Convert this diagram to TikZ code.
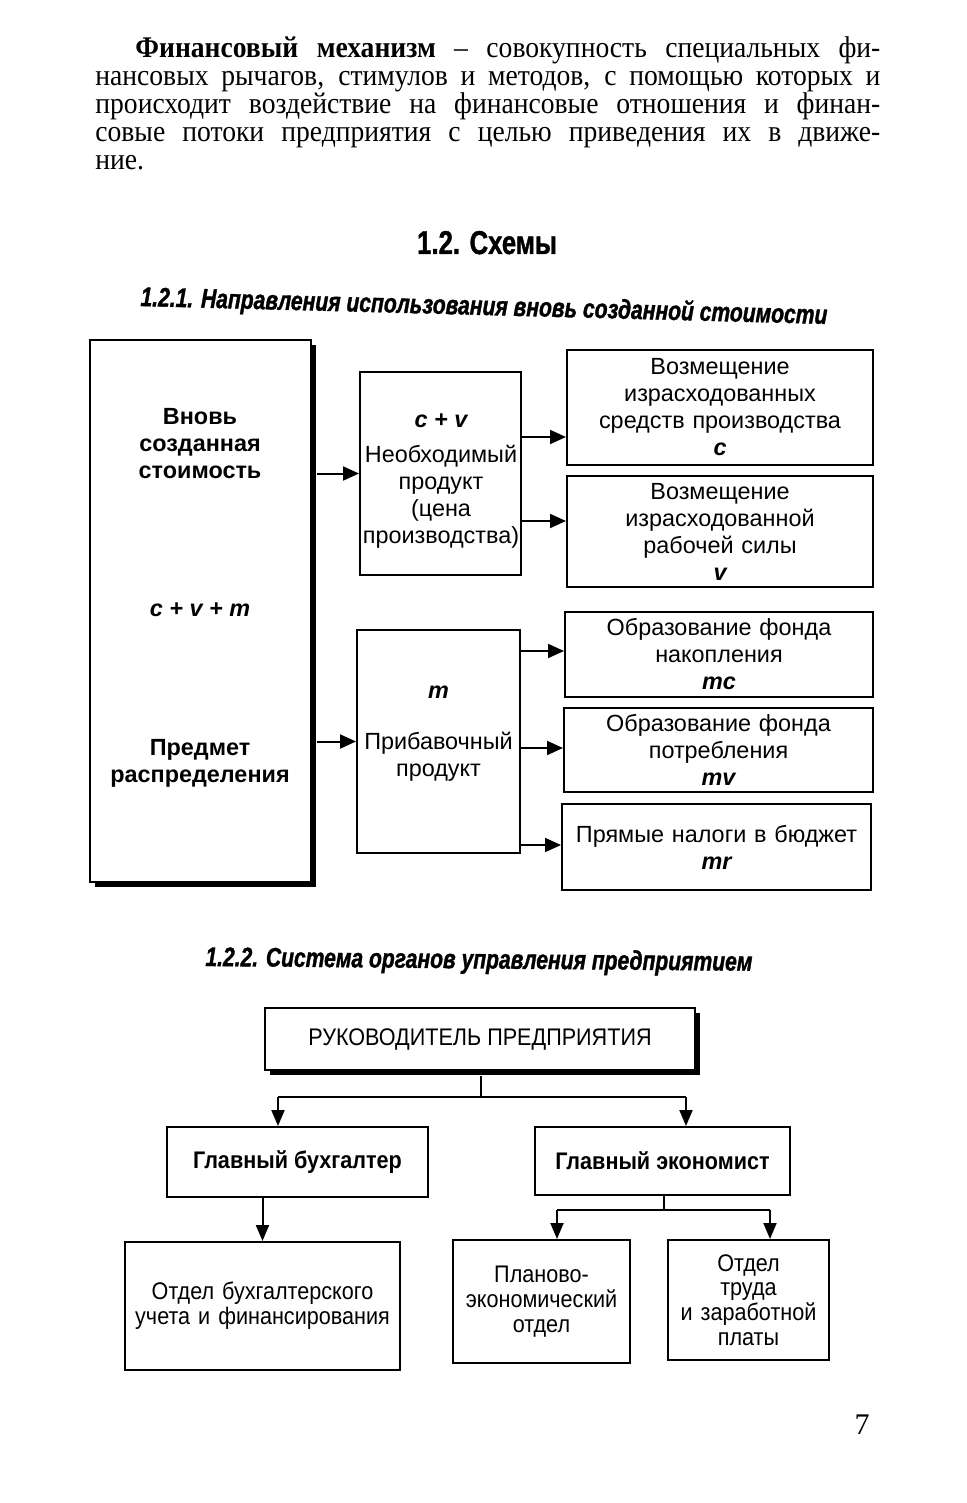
\documentclass[tikz,border=0pt]{standalone}
\usepackage{fontspec}
\setmainfont{Liberation Serif}
\newfontfamily\pfont[FakeStretch=0.92]{Liberation Serif}
\newfontfamily\dsans{Liberation Sans}
\newfontfamily\hsans[FakeStretch=0.78,FakeBold=1.2]{Liberation Sans}
\newfontfamily\nsans[FakeStretch=0.9]{Liberation Sans}
\usetikzlibrary{arrows.meta,shadows,calc}
\begin{document}
\begin{tikzpicture}[x=0.5pt,y=-0.5pt,
  box/.style={draw, line width=1pt, fill=white, inner sep=2pt, align=center},
  sbox/.style={box, drop shadow={shadow xshift=2.6pt, shadow yshift=-2.6pt, fill=black, opacity=1}},
  dtext/.style={font=\dsans\fontsize{11.7}{13.5}\selectfont},
  dbold/.style={font=\dsans\bfseries\fontsize{11.7}{13.5}\selectfont},
  ntext/.style={font=\nsans\fontsize{12}{12.4}\selectfont},
  nbold/.style={font=\nsans\bfseries\fontsize{12}{12.4}\selectfont},
  arr/.style={line width=1pt, -{Triangle[length=8pt,width=7pt]}},
  arrb/.style={line width=1pt, -{Triangle[length=8pt,width=6.5pt]}},
  ln/.style={line width=1pt}]
\useasboundingbox (0,0) rectangle (967,1503);
% paragraph
\node[inner sep=0pt, anchor=base west] (par) at (95,58) {\begin{minipage}[t]{392.5pt}\pfont\fontsize{15}{14}\selectfont\lineskiplimit=-100pt\lineskip=0pt
\noindent\hspace*{20pt}\makebox[372.5pt][s]{\textbf{Финансовый механизм} – совокупность специальных фи-}\\
\makebox[392.5pt][s]{нансовых рычагов, стимулов и методов, с помощью которых и}\\
\makebox[392.5pt][s]{происходит воздействие на финансовые отношения и финан-}\\
\makebox[392.5pt][s]{совые потоки предприятия с целью приведения их в движе-}\\
ние.\end{minipage}};
% headings
\node[font=\hsans\bfseries\fontsize{16.5}{18}\selectfont, anchor=base, inner sep=0pt] (h12) at (487,254) {1.2. Схемы};
\node[font=\hsans\bfseries\itshape\fontsize{13.5}{15}\selectfont, anchor=base west, inner sep=0pt, rotate=-1.5] (h121) at (140,306) {1.2.1. Направления использования вновь созданной стоимости};
\node[font=\hsans\bfseries\itshape\fontsize{13.5}{15}\selectfont, anchor=base west, inner sep=0pt, rotate=-0.5] (h122) at (205,966) {1.2.2. Система органов управления предприятием};
% diagram 1
\node[sbox, minimum width=110.5pt, minimum height=271pt] (B) at (200.5,611) {};
\node[dbold, align=center] (Bt1) at (200,444) {Вновь\\созданная\\стоимость};
\node[dbold, font=\dsans\bfseries\itshape\fontsize{11.7}{13.5}\selectfont] (Bt2) at (200,610) {c + v + m};
\node[dbold, align=center] (Bt3) at (200,763) {Предмет\\распределения};
\node[box, minimum width=80.5pt, minimum height=101.5pt] (CV) at (440.5,473.5) {};
\node[dtext, align=center, inner sep=0pt] (CVt) at (441,481) {{\bfseries\itshape c + v}\\[4pt]Необходимый\\продукт\\(цена\\производства)};
\node[box, minimum width=81.5pt, minimum height=111.5pt] (M) at (438.5,741.5) {};
\node[dtext, align=center] (Mt) at (438.5,734) {{\bfseries\itshape m}\\[12pt]Прибавочный\\продукт};
\node[box, dtext, text width=149pt, minimum height=57.5pt] (R1) at (720,407.5) {Возмещение\\израсходованных\\средств производства\\{\bfseries\itshape c}};
\node[box, dtext, text width=149pt, minimum height=55.5pt] (R2) at (720,531.5) {Возмещение\\израсходованной\\рабочей силы\\{\bfseries\itshape v}};
\node[box, dtext, text width=150pt, minimum height=42.5pt] (R3) at (719,654.5) {Образование фонда\\накопления\\{\bfseries\itshape mc}};
\node[box, dtext, text width=150.5pt, minimum height=42pt] (R4) at (718.5,750) {Образование фонда\\потребления\\{\bfseries\itshape mv}};
\node[box, dtext, text width=150.5pt, minimum height=43pt] (R5) at (716.5,847) {Прямые налоги в бюджет\\{\bfseries\itshape mr}};
\draw[arr] ([xshift=2.6pt]B.east |- CV.west) -- (CV.west);
\draw[arr] ([xshift=2.6pt]B.east |- M.west) -- (M.west);
\draw[arr] (CV.east |- 0,437) -- (R1.west |- 0,437);
\draw[arr] (CV.east |- 0,521) -- (R2.west |- 0,521);
\draw[arr] (M.east |- 0,651) -- (R3.west |- 0,651);
\draw[arr] (M.east |- 0,748) -- (R4.west |- 0,748);
\draw[arr] (M.east |- 0,845) -- (R5.west |- 0,845);
% diagram 2
\node[sbox, ntext, minimum width=215pt, minimum height=31pt] (T) at (480,1039) {РУКОВОДИТЕЛЬ ПРЕДПРИЯТИЯ};
\node[box, nbold, minimum width=130.5pt, minimum height=35pt] (GB) at (297.5,1162) {Главный бухгалтер};
\node[box, nbold, minimum width=127.5pt, minimum height=34pt] (GE) at (662.5,1161) {Главный экономист};
\node[box, ntext, text width=133.5pt, minimum height=64pt] (OB) at (262.5,1306) {Отдел бухгалтерского\\учета и финансирования};
\node[box, ntext, text width=84.5pt, minimum height=61.5pt] (PE) at (541.5,1301.5) {Планово-\\экономический\\отдел};
\node[box, ntext, text width=76.5pt, minimum height=60pt] (OT) at (748.5,1300) {Отдел\\труда\\и заработной\\платы};
\coordinate (j1) at (481,1097);
\coordinate (j1l) at (278,1097);
\coordinate (j1r) at (686,1097);
\draw[ln] ([yshift=-2.6pt]T.south -| j1) -- (j1);
\draw[ln] (j1l) -- (j1r);
\draw[arrb] (j1l) -- (j1l |- GB.north);
\draw[arrb] (j1r) -- (j1r |- GE.north);
\draw[arrb] (OB.north |- GB.south) -- (OB.north);
\coordinate (j2) at (664,1210);
\coordinate (j2l) at (557,1210);
\coordinate (j2r) at (770,1210);
\draw[ln] (j2 |- GE.south) -- (j2);
\draw[ln] (j2l) -- (j2r);
\draw[arrb] (j2l) -- (j2l |- PE.north);
\draw[arrb] (j2r) -- (j2r |- OT.north);
% page number
\node[font=\fontsize{15}{17}\selectfont, inner sep=0pt] (pg) at (862,1425) {7};
\end{tikzpicture}
\end{document}
